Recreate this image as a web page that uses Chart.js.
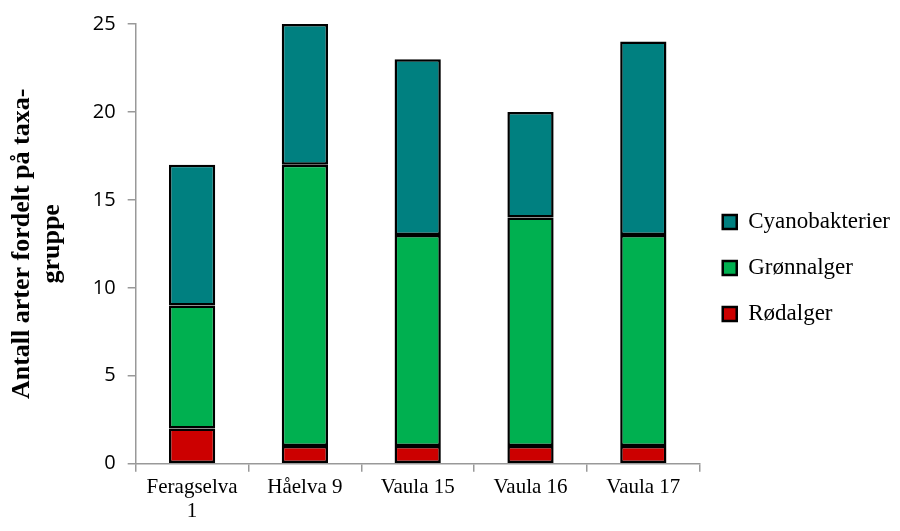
<!DOCTYPE html>
<html>
<head>
<meta charset="utf-8">
<script src="https://cdn.jsdelivr.net/npm/chart.js@4/dist/chart.umd.min.js"></script>
<style>
  html, body { margin: 0; padding: 0; background: #fff; }
  #wrap { width: 900px; height: 531px; }
</style>
</head>
<body>
<div id="wrap"><canvas id="chart"></canvas></div>
<script>
const sites = [["Feragselva", "1"], "Håelva 9", "Vaula 15", "Vaula 16", "Vaula 17"];
const rodalger = [2, 1, 1, 1, 1];
const gronnalger = [7, 16, 12, 13, 12];
const cyanobakterier = [8, 8, 10, 6, 11];

const serif = "'Liberation Serif', 'DejaVu Serif', serif";
const sans = "'Open Sans', 'DejaVu Sans', sans-serif";

const ctx = document.getElementById("chart");

new Chart(ctx, {
  type: "bar",
  data: {
    labels: sites,
    datasets: [
      { label: "Rødalger", data: rodalger, backgroundColor: "#cc0000" },
      { label: "Grønnalger", data: gronnalger, backgroundColor: "#00b050" },
      { label: "Cyanobakterier", data: cyanobakterier, backgroundColor: "#008080" }
    ].map(d => Object.assign(d, {
      borderColor: "#000",
      borderWidth: 2.5,
      borderSkipped: false,
      barPercentage: 0.41,
      categoryPercentage: 1
    }))
  },
  options: {
    responsive: true,
    maintainAspectRatio: false,
    animation: false,
    layout: { padding: { top: 8, left: 7, right: 0, bottom: 3 } },
    plugins: {
      tooltip: { enabled: false },
      legend: {
        position: "right",
        reverse: true,
        labels: {
          color: "#000",
          font: { family: serif, size: 23 },
          boxWidth: 14,
          boxHeight: 14,
          padding: 23
        }
      }
    },
    scales: {
      x: {
        stacked: true,
        border: { color: "#999", width: 1.5 },
        grid: { drawOnChartArea: false, drawTicks: true, tickLength: 8, color: "#999", lineWidth: 1.5 },
        ticks: { color: "#000", font: { family: serif, size: 21, lineHeight: 1.15 }, maxRotation: 0, padding: 4 }
      },
      y: {
        stacked: true,
        min: 0,
        max: 25,
        border: { color: "#999", width: 1.5 },
        grid: { drawOnChartArea: false, drawTicks: true, tickLength: 8, color: "#999", lineWidth: 1.5 },
        ticks: { stepSize: 5, color: "#000", font: { family: sans, size: 20 }, padding: 12 },
        title: {
          display: true,
          text: ["Antall arter fordelt på taxa-", "gruppe"],
          color: "#000",
          font: { family: serif, size: 26, weight: "bold", lineHeight: 1.15 },
          padding: { top: 0, bottom: 14 }
        }
      }
    }
  }
});
</script>
</body>
</html>
